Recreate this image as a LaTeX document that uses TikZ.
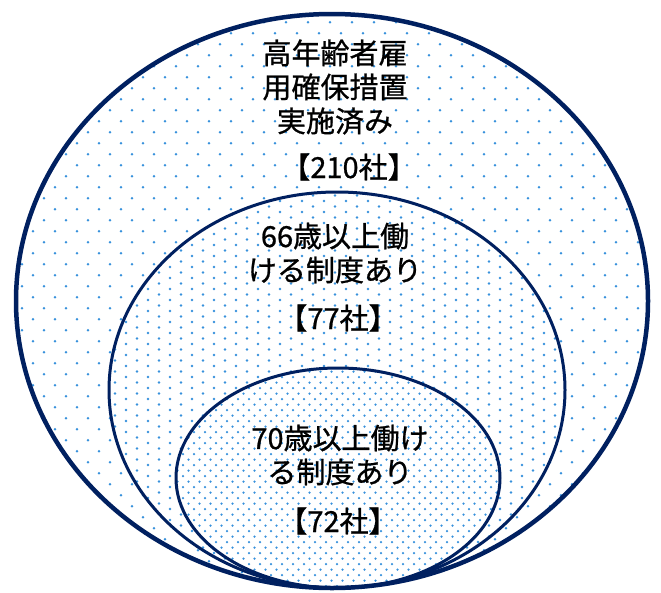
\documentclass[tikz,border=0pt]{standalone}
\usepackage{fontspec}
\newfontfamily\jp[FakeBold=0.8]{Noto Sans CJK JP}
\definecolor{navy}{RGB}{0,32,96}
\definecolor{dotblue}{RGB}{55,145,220}
\begin{document}
\begin{tikzpicture}[x=1pt,y=-1pt,
  dot/.style={fill=dotblue},
  ring/.style={draw=navy},
  lbl/.style={font=\jp\fontsize{29}{34}\selectfont, align=center, text=black, inner sep=0pt}]
\useasboundingbox (0,0) rectangle (661,592);
\fill[white] (0,0) rectangle (661,592);
% outer region
\begin{scope}
  \clip (332,301) ellipse [x radius=316, y radius=287];
  \foreach \j in {0,...,54} {
    \foreach \i in {0,...,30} {
      \fill[dot] ({22*\i + 11*mod(\j,2)}, {0.3+11*\j}) circle [radius=1.4];
    }
  }
\end{scope}
% middle region
\begin{scope}
  \clip (337,390) ellipse [x radius=228, y radius=198];
  \fill[white] (100,185) rectangle (575,595);
  \foreach \j in {0,...,73} {
    \foreach \i in {0,...,21} {
      \fill[dot] ({104+22*\i + 11*mod(\j,2)}, {190+5.5*\j}) circle [radius=1.35];
    }
  }
\end{scope}
% inner region
\begin{scope}
  \clip (338,478) ellipse [x radius=162, y radius=110];
  \fill[white] (170,360) rectangle (510,595);
  \foreach \j in {0,...,41} {
    \foreach \i in {0,...,30} {
      \fill[dot] ({172+11*\i + 5.5*mod(\j,2)}, {366+5.5*\j}) circle [radius=1.25];
    }
  }
\end{scope}
% outlines
\draw[ring, line width=4.5pt] (332,301) ellipse [x radius=316, y radius=287];
\draw[ring, line width=3pt] (337,390) ellipse [x radius=228, y radius=198];
\draw[ring, line width=3pt] (338,478) ellipse [x radius=162, y radius=110];
% labels
\node[lbl] (t1) at (335,87) {高年齢者雇\\用確保措置\\実施済み};
\node[lbl] (t1n) at (349,167) {【210社】};
\node[lbl] (t2) at (335,253) {66歳以上働\\ける制度あり};
\node[lbl] (t2n) at (338,318) {【77社】};
\node[lbl] (t3) at (340,455) {70歳以上働け\\る制度あり};
\node[lbl] (t3n) at (338,521) {【72社】};
\end{tikzpicture}
\end{document}
